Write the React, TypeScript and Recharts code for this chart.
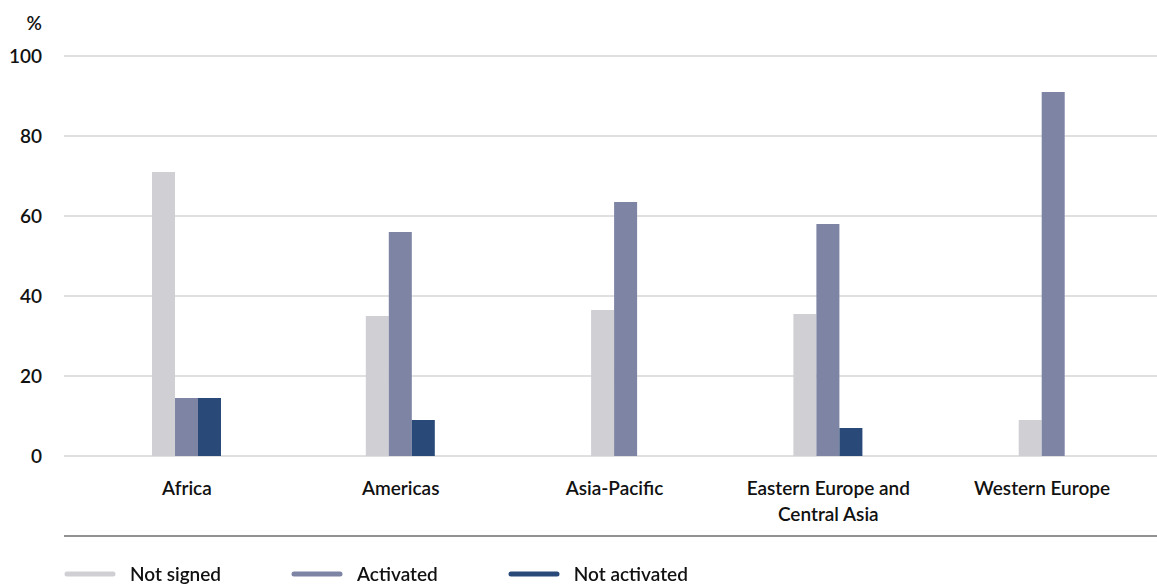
import { Bar, BarChart, CartesianGrid, Label, Legend, Text, XAxis, YAxis } from "recharts";

const regions = ["Africa", "Americas", "Asia-Pacific", "Eastern Europe and Central Asia", "Western Europe"];
const notSigned = [71, 35, 36.5, 35.5, 9];
const activated = [14.5, 56, 63.5, 58, 91];
const notActivated: (number | null)[] = [14.5, 9, null, 7, null];
const yTicks = [0, 20, 40, 60, 80, 100];

const series = [
  { key: "notSigned", name: "Not signed", color: "#cfcfd4" },
  { key: "activated", name: "Activated", color: "#7e84a3" },
  { key: "notActivated", name: "Not activated", color: "#294a78" },
];

const data = regions.map((region, i) => ({
  region,
  notSigned: notSigned[i],
  activated: activated[i],
  notActivated: notActivated[i],
}));

const FONT = "Lato, 'Noto Sans', sans-serif";
const TEXT = "#111";
const WEIGHT = 600;

// groups with only two bars are centred in their band
function CenteredBar(props: any) {
  const { x, y, width, height, fill, payload } = props;
  if (!height || height <= 0) return null;
  const shift = payload?.notActivated == null ? width / 2 : 0;
  return <rect x={x + shift} y={y} width={width} height={height} fill={fill} />;
}

function RegionTick({ x, y, payload }: any) {
  return (
    <Text
      x={x}
      y={y}
      width={170}
      textAnchor="middle"
      verticalAnchor="start"
      lineHeight={26}
      fontFamily={FONT}
      fontSize={19}
      fontWeight={WEIGHT}
      fill={TEXT}
    >
      {payload.value}
    </Text>
  );
}

function LegendRow() {
  return (
    <div
      style={{
        height: 46,
        paddingTop: 26,
        boxSizing: "border-box",
        display: "flex",
        alignItems: "center",
        paddingLeft: 64,
        gap: 70,
        fontFamily: FONT,
        fontSize: 19,
        fontWeight: WEIGHT,
        color: TEXT,
        lineHeight: "20px",
      }}
    >
      {series.map((s) => (
        <div key={s.key} style={{ display: "flex", alignItems: "center", gap: 14 }}>
          <svg width={52} height={8}>
            <line x1={3} y1={4} x2={49} y2={4} stroke={s.color} strokeWidth={5} strokeLinecap="round" />
          </svg>
          <span>{s.name}</span>
        </div>
      ))}
    </div>
  );
}

export default function App() {
  return (
    <div style={{ position: "fixed", left: 0, top: 0, background: "#fff" }}>
      <BarChart
        width={1157}
        height={584}
        data={data}
        margin={{ top: 56, right: 0, bottom: 0, left: 0 }}
        barGap={0}
        barSize={23}
      >
        <CartesianGrid vertical={false} stroke="#d6d6d6" strokeWidth={1.5} />
        <XAxis
          dataKey="region"
          height={80}
          axisLine={false}
          tickLine={false}
          tickMargin={20}
          interval={0}
          padding={{ left: 16, right: 8 }}
          tick={<RegionTick />}
        />
        <XAxis
          xAxisId="base"
          dataKey="region"
          height={2}
          tick={false}
          tickLine={false}
          axisLine={{ stroke: "#6e6e6e", strokeWidth: 1.5 }}
        />
        <YAxis
          width={64}
          domain={[0, 100]}
          ticks={yTicks}
          axisLine={false}
          tickLine={false}
          tickMargin={16}
          tick={{ fontFamily: FONT, fontSize: 19, fontWeight: WEIGHT, fill: TEXT }}
        >
          <Label
            content={(props: any) => {
              const vb = props.viewBox || { x: 0, y: 56, width: 64 };
              return (
                <text
                  x={vb.x + vb.width - 22}
                  y={vb.y - 26}
                  textAnchor="end"
                  fontFamily={FONT}
                  fontSize={19}
                  fontWeight={WEIGHT}
                  fill={TEXT}
                >
                  %
                </text>
              );
            }}
          />
        </YAxis>
        <Legend verticalAlign="bottom" content={() => <LegendRow />} />
        {series.map((s) => (
          <Bar
            key={s.key}
            dataKey={s.key}
            name={s.name}
            fill={s.color}
            shape={<CenteredBar />}
            isAnimationActive={false}
          />
        ))}
      </BarChart>
    </div>
  );
}
